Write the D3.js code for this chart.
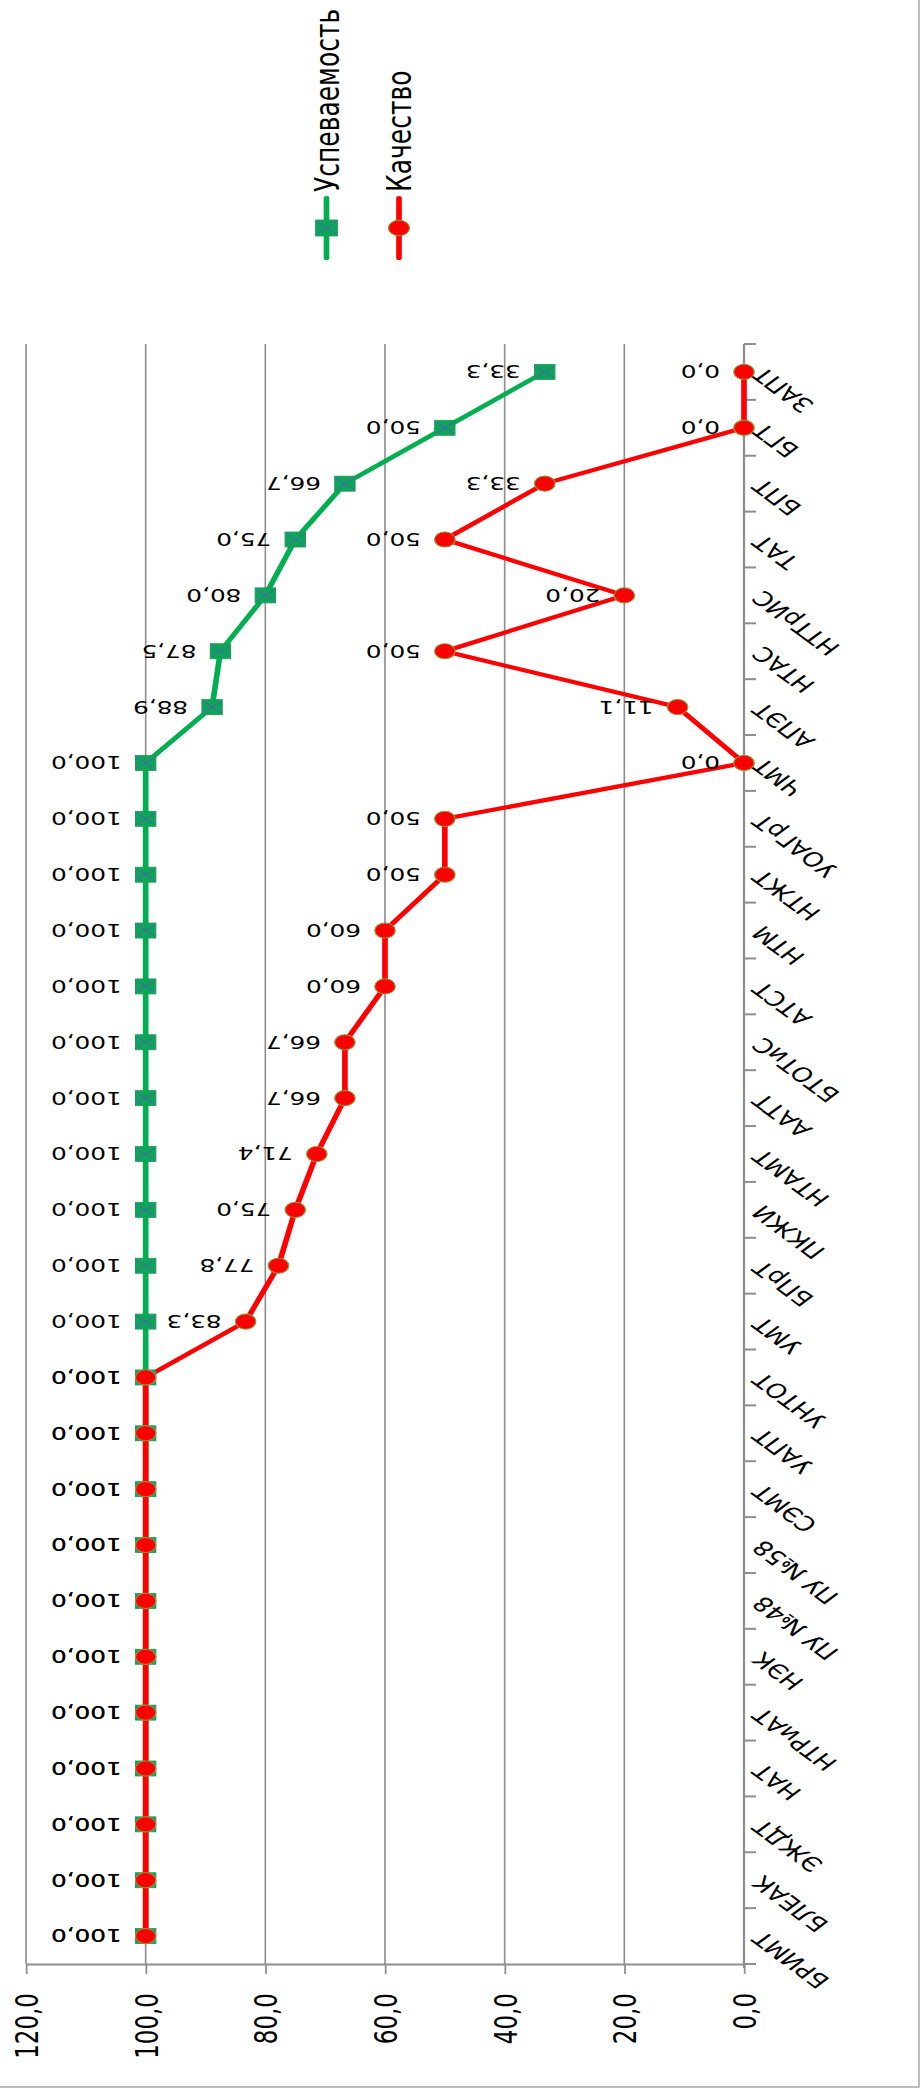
<!DOCTYPE html>
<html><head><meta charset="utf-8">
<script src="https://cdn.jsdelivr.net/npm/d3@7"></script>
<style>body{margin:0;background:#fff} svg{display:block}</style>
</head><body>
<svg id="c" width="923" height="2089"></svg>
<script>
const categories = ["ЗАПТ","БГТ","БПТ","ТАТ","НТТрИС","НТАС","АПЭТ","ЧМТ","УОАГрТ","НТЖТ","НТМ","АТСТ","БТОТиС","ААТТ","НТАМТ","ПКЖИ","БПрТ","УМТ","УНТОТ","УАПТ","СЭМТ","ПУ №58","ПУ №48","НЭК","НТРиАТ","НАТ","ЭЖДТ","БЛЕАК","БРИМТ"];
const uspevaemost = [33.3,50.0,66.7,75.0,80.0,87.5,88.9,100,100,100,100,100,100,100,100,100,100,100,100,100,100,100,100,100,100,100,100,100,100];
const kachestvo = [0.0,0.0,33.3,50.0,20.0,50.0,11.1,0.0,50.0,50.0,60.0,60.0,66.7,66.7,71.4,75.0,77.8,83.3,100,100,100,100,100,100,100,100,100,100,100];
const valueTicks = [0,20,40,60,80,100,120];
const seriesNames = ["Успеваемость","Качество"];
const seriesColors = ["#00B050","#FF0000"];

const SX = 1.35;           // horizontal stretch of the whole picture
const W = 923, H = 2089;
const FONT = "'DejaVu Sans', Verdana, sans-serif";
const fmt = v => d3.format(".1f")(v).replace(".", ",");

const svg = d3.select("#c");
const g = svg.append("g").attr("transform", `scale(${SX},1)`);

const plotTop = 344, plotBottom = 1964;
const x = d3.scaleLinear().domain([0,120]).range([744/SX, 26/SX]);
const y = d3.scalePoint().domain(categories).range([plotTop, plotBottom]).padding(0.5);
const step = y.step();

// gridlines
g.append("g").selectAll("line").data(valueTicks.filter(t => t > 0)).join("line")
  .attr("x1", d => x(d)).attr("x2", d => x(d))
  .attr("y1", plotTop).attr("y2", plotBottom)
  .attr("stroke", "#8e8e8e").attr("stroke-width", 1.2);

// value axis (bottom)
const ax = g.append("g").attr("transform", `translate(0,${plotBottom})`)
  .call(d3.axisBottom(x).tickValues(valueTicks).tickSize(10).tickSizeOuter(0).tickFormat(fmt));
ax.select(".domain").attr("stroke", "#8e8e8e").attr("stroke-width", 2);
ax.selectAll(".tick line").attr("stroke", "#8e8e8e").attr("stroke-width", 1.3);
ax.selectAll(".tick text")
  .attr("transform", "rotate(-90)")
  .attr("x", -29).attr("y", 0).attr("dy", "0.36em")
  .attr("text-anchor", "end")
  .attr("font-family", FONT).attr("font-size", 23).attr("fill", "#000");

// category axis (at value 0)
const x0 = x(0);
g.append("line").attr("x1", x0).attr("x2", x0).attr("y1", plotTop).attr("y2", plotBottom + 4)
  .attr("stroke", "#8e8e8e").attr("stroke-width", 1.7);
g.append("g").selectAll("line").data(d3.range(categories.length + 1)).join("line")
  .attr("x1", x0).attr("x2", x0 + 12/SX)
  .attr("y1", i => plotTop + i*step).attr("y2", i => plotTop + i*step)
  .attr("stroke", "#8e8e8e").attr("stroke-width", 2);
g.append("g").selectAll("text").data(categories).join("text")
  .attr("transform", d => `translate(${x0 + 20/SX},${y(d) - 6}) rotate(-135)`)
  .attr("text-anchor", "end")
  .attr("font-family", FONT).attr("font-size", 20).attr("fill", "#000")
  .text(d => d);

// series lines
const seriesData = [uspevaemost, kachestvo];
const line = d3.line().x(d => x(d.v)).y(d => y(d.c));
const pts = seriesData.map(arr => arr.map((v, i) => ({c: categories[i], v})));
pts.forEach((p, k) => {
  g.append("path").datum(p).attr("d", line).attr("fill", "none")
    .attr("stroke", seriesColors[k]).attr("stroke-width", 4.2)
    .attr("stroke-linejoin", "round").attr("stroke-linecap", "round");
});

// markers
function squareMarker(sel, cx, cy, s) {
  sel.append("rect").attr("x", cx - s/2).attr("y", cy - s/2).attr("width", s).attr("height", s)
    .attr("fill", "#10A35A").attr("stroke", "#1f9a58").attr("stroke-width", 0.8);
  sel.append("path").attr("d", `M${cx-s/2+1},${cy-s/2+2}L${cx+s/2-1},${cy+s/2-2}M${cx-s/2+1},${cy+s/2-2}L${cx+s/2-1},${cy-s/2+2}`)
    .attr("stroke", "#3f6eab").attr("stroke-width", 0.9).attr("fill", "none");
}
function circleMarker(sel, cx, cy, r) {
  sel.append("circle").attr("cx", cx).attr("cy", cy).attr("r", r)
    .attr("fill", "#FF0000").attr("stroke", "#8f9a3c").attr("stroke-width", 0.9);
}
const gm0 = g.append("g");
pts[0].forEach(d => squareMarker(gm0, x(d.v), y(d.c), 15));
const gm1 = g.append("g");
pts[1].forEach(d => circleMarker(gm1, x(d.v), y(d.c), 7.6));

// data labels
pts.forEach(p => {
  g.append("g").selectAll("text").data(p).join("text")
    .attr("transform", d => `translate(${x(d.v) - 24/SX},${y(d.c)}) rotate(180)`)
    .attr("text-anchor", "start").attr("dy", "0.36em")
    .attr("font-family", FONT).attr("font-size", 18.3).attr("fill", "#000")
    .text(d => fmt(d.v));
});

// legend
const legX = [326.5/SX, 399/SX];
seriesNames.forEach((name, k) => {
  const lg = g.append("g");
  lg.append("line").attr("x1", legX[k]).attr("x2", legX[k]).attr("y1", 198).attr("y2", 258)
    .attr("stroke", seriesColors[k]).attr("stroke-width", 4.2).attr("stroke-linecap", "round");
  if (k === 0) squareMarker(lg, legX[k], 228, 16); else circleMarker(lg, legX[k], 228, 7.8);
  lg.append("text")
    .attr("transform", `translate(${legX[k]},192) rotate(-90)`)
    .attr("text-anchor", "start").attr("dy", "0.36em")
    .attr("font-family", FONT).attr("font-size", 25).attr("fill", "#000")
    .text(name);
});

// chart border (bottom and right edges visible)
svg.append("path").attr("d", `M0,${H-2}H${W-4}V0`)
  .attr("fill", "none").attr("stroke", "#a6a6a6").attr("stroke-width", 1.5);
</script>
</body></html>
